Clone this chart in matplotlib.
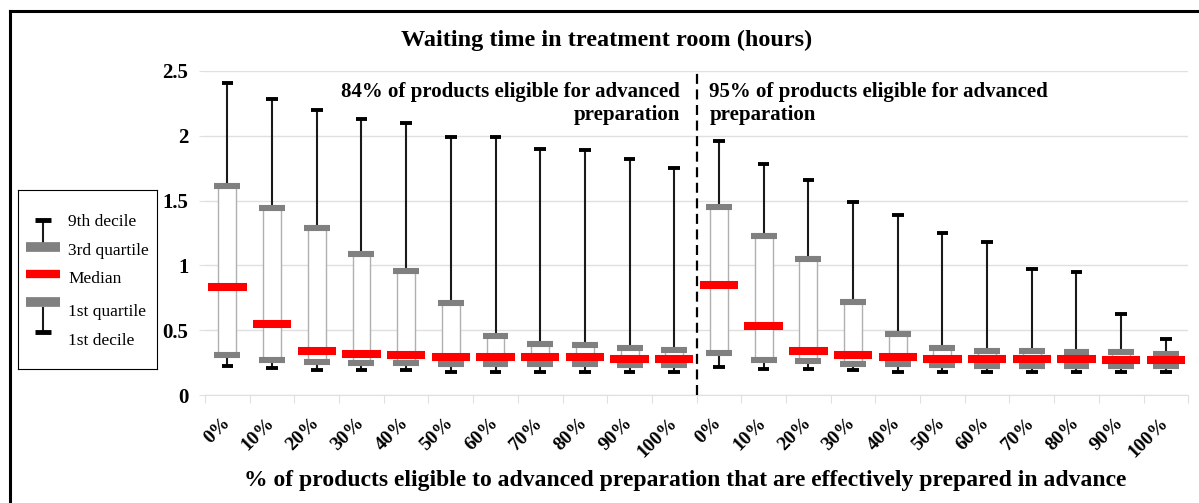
import matplotlib
matplotlib.use('Agg')
import matplotlib.pyplot as plt
from matplotlib.lines import Line2D
import numpy as np

# categories (share of eligible products prepared in advance)
pct_labels = ['0%', '10%', '20%', '30%', '40%', '50%', '60%', '70%', '80%', '90%', '100%']

# 84% of products eligible
d9_84 = [2.41, 2.28, 2.20, 2.13, 2.10, 1.99, 1.99, 1.90, 1.89, 1.82, 1.75]
q3_84 = [1.61, 1.44, 1.285, 1.09, 0.957, 0.707, 0.455, 0.39, 0.385, 0.36, 0.35]
med_84 = [0.83, 0.55, 0.34, 0.315, 0.31, 0.29, 0.29, 0.29, 0.29, 0.28, 0.28]
q1_84 = [0.305, 0.27, 0.255, 0.245, 0.245, 0.24, 0.24, 0.24, 0.24, 0.23, 0.23]
d1_84 = [0.22, 0.21, 0.19, 0.19, 0.19, 0.18, 0.18, 0.18, 0.18, 0.175, 0.18]

# 95% of products eligible
d9_95 = [1.96, 1.78, 1.66, 1.49, 1.39, 1.25, 1.18, 0.975, 0.95, 0.625, 0.43]
q3_95 = [1.45, 1.23, 1.05, 0.72, 0.47, 0.36, 0.34, 0.34, 0.335, 0.33, 0.32]
med_95 = [0.846, 0.53, 0.34, 0.31, 0.29, 0.28, 0.276, 0.276, 0.276, 0.27, 0.27]
q1_95 = [0.325, 0.27, 0.26, 0.24, 0.24, 0.23, 0.225, 0.225, 0.225, 0.22, 0.22]
d1_95 = [0.217, 0.20, 0.20, 0.19, 0.18, 0.18, 0.18, 0.175, 0.18, 0.175, 0.175]

labels = pct_labels + pct_labels
d9 = np.array(d9_84 + d9_95)
q3 = np.array(q3_84 + q3_95)
med = np.array(med_84 + med_95)
q1 = np.array(q1_84 + q1_95)
d1 = np.array(d1_84 + d1_95)
x = np.arange(len(labels))

serif = 'Liberation Serif'
GRAY = '#808080'
RED = '#ff0000'
BLK = '#1a1a1a'
GRID = '#e0e0e0'

fig = plt.figure(figsize=(11.99, 5.03), dpi=100)
ax = fig.add_axes([0.171, 0.2147, 0.82, 0.6443])

# whiskers + caps
ax.vlines(x, q3, d9, color=BLK, lw=1.5, zorder=2)
ax.vlines(x, d1, q1, color=BLK, lw=1.5, zorder=2)
ax.hlines(d9, x - 0.13, x + 0.13, color='black', lw=2.8, zorder=3, capstyle='butt')
ax.hlines(d1, x - 0.13, x + 0.13, color='black', lw=2.8, zorder=3, capstyle='butt')
# box
ax.bar(x, q3 - q1, bottom=q1, width=0.4, facecolor='white', edgecolor='#b0b0b0', lw=1.0, zorder=3)
# quartile bars
ax.hlines(q3, x - 0.29, x + 0.29, color=GRAY, lw=4.4, zorder=4, capstyle='butt')
ax.hlines(q1, x - 0.29, x + 0.29, color=GRAY, lw=4.4, zorder=4, capstyle='butt')
# median
ax.hlines(med, x - 0.43, x + 0.43, color=RED, lw=5.8, zorder=5, capstyle='butt')

# separator between the two scenarios
ax.axvline(10.5, ymin=0, ymax=1, color='black', lw=1.6, ls=(0, (4.5, 2.5)), zorder=6, clip_on=False)

ax.set_xlim(-0.5, len(labels) - 0.5)
ax.set_ylim(0, 2.5)
ax.set_yticks(np.arange(0, 2.51, 0.5))
ax.set_yticklabels(['0', '0.5', '1', '1.5', '2', '2.5'], fontfamily=serif, fontweight='bold', fontsize=15)
ax.yaxis.grid(True, color=GRID, lw=1)
ax.set_axisbelow(True)
ax.tick_params(axis='y', length=4, color=GRID, pad=8)

ax.set_xticks(np.arange(-0.5, len(labels), 1.0))
ax.set_xticklabels([])
ax.set_xticks(x, minor=True)
ax.set_xticklabels(labels, minor=True, rotation=45, ha='right', va='center', rotation_mode='anchor',
                   fontfamily=serif, fontweight='bold', fontsize=14)
ax.tick_params(axis='x', which='major', length=6, color=GRID)
ax.tick_params(axis='x', which='minor', length=0, pad=18)

for s in ['top', 'right', 'left']:
    ax.spines[s].set_visible(False)
ax.spines['bottom'].set_color(GRID)

ax.text(0.483, 0.90, '84% of products eligible for advanced\npreparation', transform=ax.transAxes,
        ha='right', va='center', ma='right', fontfamily=serif, fontweight='bold', fontsize=15, linespacing=1.2)
ax.text(0.513, 0.90, '95% of products eligible for advanced\npreparation', transform=ax.transAxes,
        ha='left', va='center', ma='left', fontfamily=serif, fontweight='bold', fontsize=15, linespacing=1.2)

fig.text(0.506, 0.920, 'Waiting time in treatment room (hours)', ha='center', va='center',
         fontfamily=serif, fontweight='bold', fontsize=17.5)
fig.text(0.5717, 0.045, '% of products eligible to advanced preparation that are effectively prepared in advance',
         ha='center', va='center', fontfamily=serif, fontweight='bold', fontsize=17)

# legend key drawn as a small box plot
lg = fig.add_axes([0.015, 0.2664, 0.116, 0.356])
lg.set_xlim(0, 139)
lg.set_ylim(179, 0)
lg.set_xticks([])
lg.set_yticks([])
for s in lg.spines.values():
    s.set_linewidth(0.8)
    s.set_color('black')
cx = 25
lg.vlines(cx, 30, 57, color=BLK, lw=1.5)
lg.vlines(cx, 117, 142, color=BLK, lw=1.5)
lg.hlines([30, 142], cx - 8, cx + 8, color='black', lw=3.5, capstyle='butt')
lg.bar(cx, 57 - 117, bottom=117, width=26, facecolor='white', edgecolor='none')
lg.hlines([57, 112], cx - 16.5, cx + 16.5, color=GRAY, lw=7, capstyle='butt')
lg.hlines(84, cx - 16.5, cx + 16.5, color=RED, lw=6, capstyle='butt')
for yy, txt in zip([32, 61, 89, 122, 151], ['9th decile', '3rd quartile', 'Median', '1st quartile', '1st decile']):
    lg.text(50, yy, txt, ha='left', va='center', fontfamily=serif, fontsize=12.5)

# outer frame
fig.add_artist(Line2D([10 / 1199, 1.0], [1 - 11 / 503, 1 - 11 / 503], transform=fig.transFigure,
                      color='black', lw=2.2))
fig.add_artist(Line2D([10 / 1199, 10 / 1199], [0, 1 - 11 / 503], transform=fig.transFigure,
                      color='black', lw=2.2))

fig.savefig('out.png', dpi=100)
